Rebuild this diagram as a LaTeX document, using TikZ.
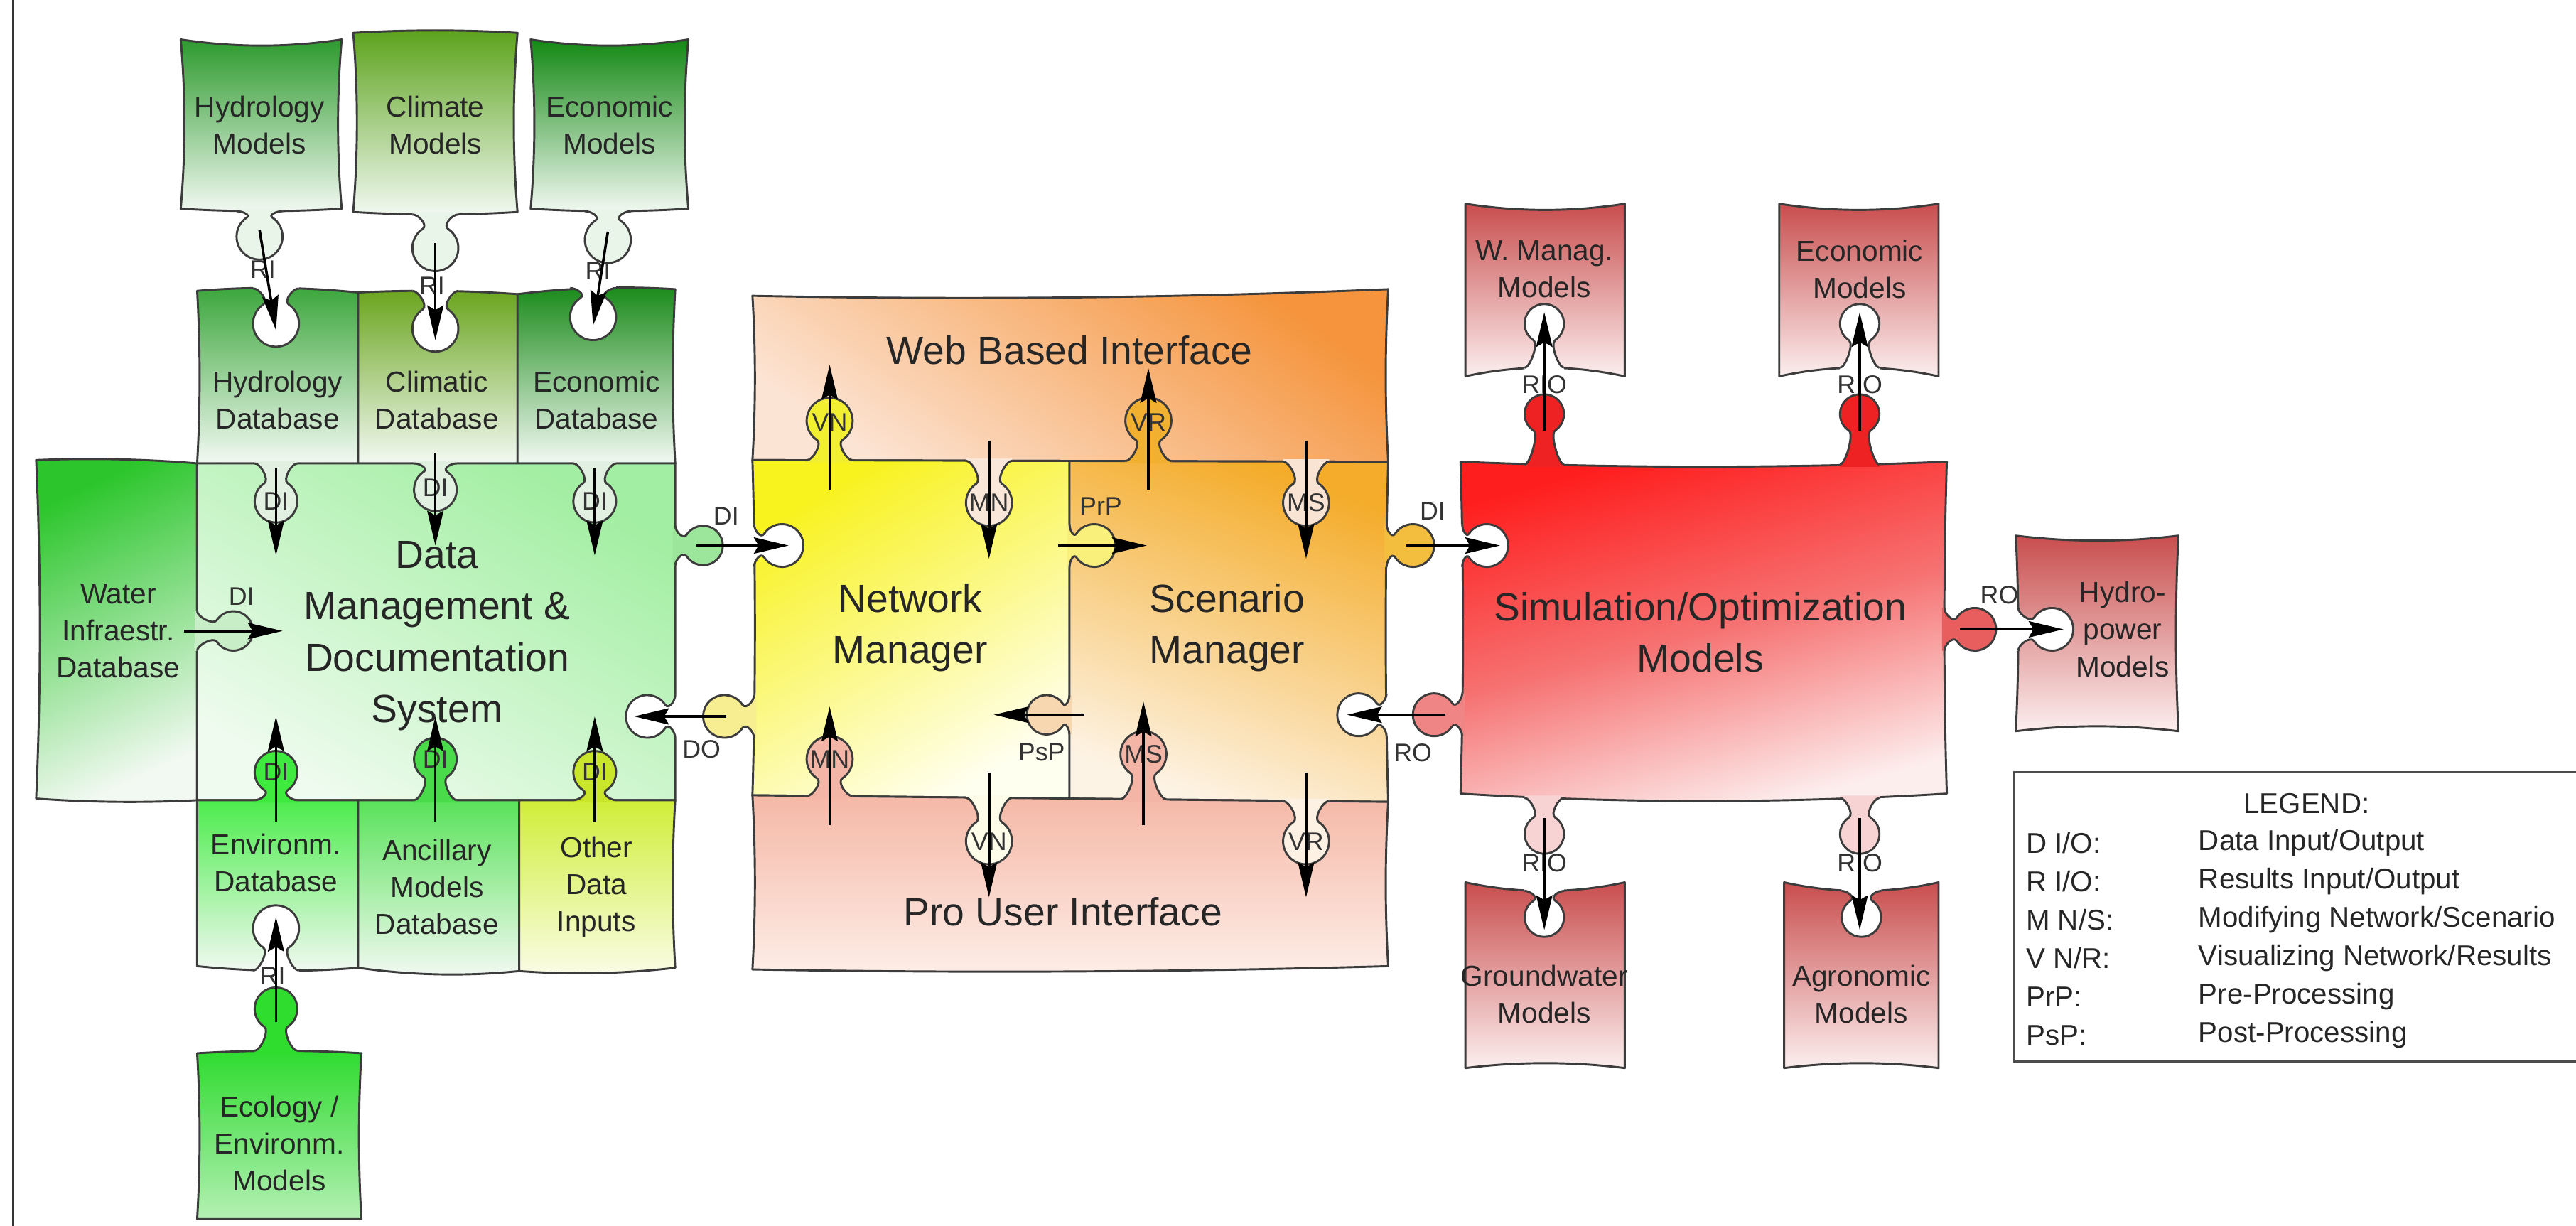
\documentclass[tikz,border=0pt]{standalone}
\usepackage{fontspec}
\setmainfont{Liberation Sans}
\usetikzlibrary{arrows.meta,calc}

% outline and piece colours
\definecolor{outline}{HTML}{3C3C3C}
\definecolor{gHMt}{HTML}{2D9A2D}
\definecolor{gCMt}{HTML}{5CA31C}
\definecolor{gEMt}{HTML}{138813}
\definecolor{gHDt}{HTML}{3BA63B}
\definecolor{gCDt}{HTML}{6AA51E}
\definecolor{gEDt}{HTML}{198A19}
\definecolor{gPale}{HTML}{F2F9F2}
\definecolor{gMainT}{HTML}{A2EEA2}
\definecolor{gMainB}{HTML}{EEFBEE}
\definecolor{gWatT}{HTML}{2CC62C}
\definecolor{gEnvT}{HTML}{4CEC4C}
\definecolor{gAncT}{HTML}{5AE25A}
\definecolor{gOthT}{HTML}{D0EE38}
\definecolor{gOthB}{HTML}{FAFCE6}
\definecolor{gEcoT}{HTML}{2EDB2E}
\definecolor{gEcoB}{HTML}{B4F0B4}
\definecolor{kModel}{HTML}{EAF5EA}
\definecolor{kDB}{HTML}{E2F0E2}
\definecolor{kMain}{HTML}{9BE69B}
\definecolor{kWater}{HTML}{C8EEC8}
\definecolor{kEnv}{HTML}{3EEA3E}
\definecolor{kAnc}{HTML}{4ADB4A}
\definecolor{kOth}{HTML}{C9E62A}
\definecolor{kEco}{HTML}{2EDD2E}
\definecolor{oWebT}{HTML}{F5943C}
\definecolor{oWebB}{HTML}{FCE4D4}
\definecolor{yNMT}{HTML}{F8F21E}
\definecolor{yNMB}{HTML}{FFFFF0}
\definecolor{oSMT}{HTML}{F4AC2A}
\definecolor{oSMB}{HTML}{FDF3E4}
\definecolor{pProT}{HTML}{F5B8A6}
\definecolor{pProB}{HTML}{FDEDE7}
\definecolor{kVN}{HTML}{F2EE30}
\definecolor{kVR}{HTML}{F1B030}
\definecolor{kMN}{HTML}{F9E7DA}
\definecolor{kMS}{HTML}{F9E4D4}
\definecolor{kPrP}{HTML}{F8F07A}
\definecolor{kPsP}{HTML}{F7D7B0}
\definecolor{kPink}{HTML}{F3B6A6}
\definecolor{kLightY}{HTML}{FDFCE8}
\definecolor{kLightO}{HTML}{FCF1E2}
\definecolor{kDO}{HTML}{F6EE90}
\definecolor{kDI}{HTML}{F3BE3E}
\definecolor{rSimT}{HTML}{FF1E1E}
\definecolor{rSimM}{HTML}{F67272}
\definecolor{rSimB}{HTML}{FDEEEE}
\definecolor{rBoxT}{HTML}{C94E4E}
\definecolor{rBoxB}{HTML}{FCEEEE}
\definecolor{kRed}{HTML}{EE2222}
\definecolor{kRedPale}{HTML}{F8D3D3}
\definecolor{kRoL}{HTML}{EF8585}
\definecolor{kRoR}{HTML}{E85D5D}

\tikzset{
  piece/.style={draw=outline, line width=0.9pt, line join=round},
  pline/.style={draw=outline, line width=0.9pt, line join=round},
  txtS/.style={align=center, inner sep=0pt, text=black!85, font=\fontsize{12.5}{16}\selectfont},
  txtB/.style={align=center, inner sep=0pt, text=black!85, font=\fontsize{17}{22.2}\selectfont},
  pinlab/.style={inner sep=0pt, text=black!80, font=\fontsize{11}{12}\selectfont},
  legtxt/.style={anchor=west, inner sep=0pt, text=black!85, font=\fontsize{12.4}{15}\selectfont},
  flow/.style={draw=black, line width=1.1pt, -{Stealth[length=15pt,width=7pt,inset=2pt]}},
}

% puzzle tab (knob or keyhole) on an edge:
% #1,#2 base point on the edge, #3 rotation (0 = pointing down), #4 distance to circle centre, #5 radius, #6 fill
\newcommand\pzltab[6]{%
  \pgfmathsetmacro\tn{0.55*#5}%
  \pgfmathsetmacro\ta{\tn+0.45*#5}%
  \pgfmathsetmacro\tb{\tn+0.18*#5}%
  \pgfmathsetmacro\tj{#4-0.835*#5}%
  \pgfmathsetmacro\tk{min(4,0.7*\tj)}%
  \pgfmathsetmacro\tcu{\tn-0.835*\tk}%
  \pgfmathsetmacro\tcv{\tj-0.55*\tk}%
  \begin{scope}[shift={(#1,#2)},rotate=#3]
    \fill[#6] (-\ta,-1.4) -- (-\ta,0) .. controls (-\tb,0) and (-\tcu,\tcv) .. (-\tn,\tj)
      arc[start angle=236.63,end angle=-56.63,radius=#5]
      .. controls (\tcu,\tcv) and (\tb,0) .. (\ta,0) -- (\ta,-1.4) -- cycle;
    \draw[pline] (-\ta,0) .. controls (-\tb,0) and (-\tcu,\tcv) .. (-\tn,\tj)
      arc[start angle=236.63,end angle=-56.63,radius=#5]
      .. controls (\tcu,\tcv) and (\tb,0) .. (\ta,0);
  \end{scope}}

% slightly wavy four-sided piece: style, TL, TR, BR, BL, sag of top, right, bottom, left edge
\newcommand\pzlquad[9]{%
  \path[piece,#1] (#2)
    .. controls ($(#2)!0.3333!(#3)+(0,#6)$) and ($(#2)!0.6667!(#3)+(0,#6)$) .. (#3)
    .. controls ($(#3)!0.3333!(#4)+(#7,0)$) and ($(#3)!0.6667!(#4)+(#7,0)$) .. (#4)
    .. controls ($(#4)!0.3333!(#5)+(0,#8)$) and ($(#4)!0.6667!(#5)+(0,#8)$) .. (#5)
    .. controls ($(#5)!0.3333!(#2)+(#9,0)$) and ($(#5)!0.6667!(#2)+(#9,0)$) .. (#2) -- cycle;}

\begin{document}
\begin{tikzpicture}[x=0.025cm,y=-0.025cm]
\useasboundingbox (0,0) rectangle (1568,746);
\draw[line width=0.8pt, black!80] (8,0) -- (8,746);

% ---------------- data cluster (green) ----------------
\pzlquad{top color=gHMt,bottom color=gPale}{110,24}{208,24}{208,127}{110,127}{5}{-3}{2}{3}
\pzlquad{top color=gCMt,bottom color=gPale}{215,20}{315,20}{315,129}{215,129}{-2}{-3}{2}{3}
\pzlquad{top color=gEMt,bottom color=gPale}{323,24}{419,24}{419,127}{323,127}{5}{-3}{2}{3}
\pzlquad{top color=gHDt,bottom color=gPale}{120,177}{218,178}{218,282}{120,282}{-3}{0}{0}{2}
\pzlquad{top color=gCDt,bottom color=gPale}{218,178}{315,179}{315,282}{218,282}{-2}{0}{0}{0}
\pzlquad{top color=gEDt,bottom color=gPale}{315,179}{411,176}{411,282}{315,282}{-3}{-2}{0}{0}
\pzlquad{top color=gWatT,bottom color=gPale,shading angle=25}{22,280}{120,282}{120,487}{22,486}{-2}{0}{2}{3}
\pzlquad{top color=gMainT,bottom color=gMainB,shading angle=-30}{120,282}{411,282}{411,487}{120,487}{0}{0}{0}{0}
\pzlquad{top color=gEnvT,bottom color=gPale}{120,487}{218,487}{218,589}{120,588}{0}{0}{3}{0}
\pzlquad{top color=gAncT,bottom color=gPale}{218,487}{316,487}{316,591}{218,589}{0}{0}{4}{0}
\pzlquad{top color=gOthT,bottom color=gOthB}{316,487}{411,487}{411,589}{316,591}{0}{-2}{3}{0}
\pzlquad{top color=gEcoT,bottom color=gEcoB}{120,641}{220,641}{220,742}{120,742}{-2}{-2}{0}{2}

% ---------------- managers (yellow / orange) ----------------
\pzlquad{top color=oWebT,bottom color=oWebB,shading angle=-35}{458,180}{845,176}{845,281}{458,280}{4}{-2}{0}{2}
\pzlquad{top color=yNMT,bottom color=yNMB,shading angle=30}{458,280}{651,280.5}{651,486}{458,484}{0}{0}{0}{2}
\pzlquad{top color=oSMT,bottom color=oSMB,shading angle=-20}{651,280.5}{845,281}{845,488}{651,486}{0}{-2}{0}{0}
\pzlquad{top color=pProT,bottom color=pProB}{458,484}{845,488}{845,588}{458,590}{0}{-2}{3}{2}

% ---------------- models (red) ----------------
\pzlquad{top color=rSimT,bottom color=rSimB,middle color=rSimM,shading angle=15}{889,281}{1185,281}{1185,483}{889,483}{4}{-2}{6}{2}
\pzlquad{top color=rBoxT,bottom color=rBoxB}{892,124}{989,124}{989,229}{892,229}{5}{0}{-7}{0}
\pzlquad{top color=rBoxT,bottom color=rBoxB}{1083,124}{1180,124}{1180,229}{1083,229}{5}{0}{-7}{0}
\pzlquad{top color=rBoxT,bottom color=rBoxB}{892,537}{989,537}{989,650}{892,650}{7}{0}{-4}{0}
\pzlquad{top color=rBoxT,bottom color=rBoxB}{1086,537}{1180,537}{1180,650}{1086,650}{7}{0}{-4}{0}
\pzlquad{top color=rBoxT,bottom color=rBoxB}{1227,326}{1326,326}{1326,445}{1227,445}{4}{-2}{-4}{2}

% ---------------- knobs and sockets ----------------
% green
\pzltab{158}{128.5}{0}{15.5}{14}{kModel}
\pzltab{265}{130.5}{0}{20.5}{14}{kModel}
\pzltab{370}{128.5}{0}{17.5}{14}{kModel}
\pzltab{168}{175.5}{0}{21.5}{14}{white}
\pzltab{265}{177}{0}{23}{14}{white}
\pzltab{361}{175.3}{0}{17.7}{14}{white}
\pzltab{168}{282}{0}{23}{13}{kDB}
\pzltab{265}{282}{0}{16}{13}{kDB}
\pzltab{362}{282}{0}{23}{13}{kDB}
\pzltab{411}{332}{90}{17}{12}{kMain}
\pzltab{120}{384}{90}{22}{12}{kWater}
\pzltab{168}{487}{180}{17}{13}{kEnv}
\pzltab{265}{487}{180}{25}{13}{kAnc}
\pzltab{362}{487}{180}{17}{13}{kOth}
\pzltab{411}{436}{-90}{17}{13}{white}
\pzltab{168}{590.7}{180}{25.7}{14}{white}
\pzltab{168}{639.5}{180}{25.5}{13}{kEco}
% managers
\pzltab{505}{280.1}{180}{24}{14}{kVN}
\pzltab{699}{280.6}{180}{24.6}{14}{kVR}
\pzltab{602}{280.4}{0}{25.6}{14}{kMN}
\pzltab{795}{280.9}{0}{25.1}{14}{kMS}
\pzltab{651}{332}{90}{15}{13}{kPrP}
\pzltab{651}{435}{-90}{14}{12}{kPsP}
\pzltab{505}{484.5}{180}{22.5}{14}{kPink}
\pzltab{696}{486.5}{180}{27.5}{14}{kPink}
\pzltab{602}{485.5}{0}{26.5}{14}{kLightY}
\pzltab{795}{487.5}{0}{24.5}{14}{kLightO}
\pzltab{459}{332}{90}{17}{13}{white}
\pzltab{459}{436}{-90}{18}{13}{kDO}
\pzltab{844}{332}{90}{16}{13}{kDI}
\pzltab{844}{435}{-90}{17}{13}{white}
% red
\pzltab{940}{282.7}{180}{30.7}{12}{kRed}
\pzltab{1132}{282.7}{180}{30.7}{12}{kRed}
\pzltab{940}{485.6}{0}{22}{12}{kRedPale}
\pzltab{1132}{485.6}{0}{22}{12}{kRedPale}
\pzltab{890}{332}{90}{15}{13}{white}
\pzltab{890}{435}{-90}{17}{13}{kRoL}
\pzltab{1183.5}{383}{90}{18.5}{13}{kRoR}
\pzltab{940}{223.8}{180}{26.8}{12}{white}
\pzltab{1132}{223.8}{180}{26.8}{12}{white}
\pzltab{940}{542.2}{0}{16}{12}{white}
\pzltab{1133}{542.2}{0}{16}{12}{white}
\pzltab{1228.5}{383}{90}{20.5}{13}{white}

% ---------------- texts ----------------
\node[txtS] (tHM) at (158,76) {Hydrology\\Models};
\node[txtS] (tCM) at (265,76) {Climate\\Models};
\node[txtS] (tEM) at (371,76) {Economic\\Models};
\node[txtS] (tHD) at (169,243.5) {Hydrology\\Database};
\node[txtS] (tCD) at (266,243.5) {Climatic\\Database};
\node[txtS] (tED) at (363,243.5) {Economic\\Database};
\node[txtS] (tWat) at (72,384) {Water\\Infraestr.\\Database};
\node[txtB] (tMain) at (266,387) {Data\\Management \&\\Documentation\\System};
\node[txtS] (tEnv) at (168,525) {Environm.\\Database};
\node[txtS] (tAnc) at (266,540) {Ancillary\\Models\\Database};
\node[txtS] (tOth) at (363,540) {Other\\Data\\Inputs};
\node[txtS] (tEco) at (170,696) {Ecology /\\Environm.\\Models};

\node[txtB] (tWeb) at (651,213) {Web Based Interface};
\node[txtB] (tNM) at (554,382) {Network\\Manager};
\node[txtB] (tSM) at (747,382) {Scenario\\Manager};
\node[txtB] (tPro) at (647,555) {Pro User Interface};

\node[txtB] (tSim) at (1035,385) {Simulation/Optimization\\Models};
\node[txtS] (tWM) at (940,164) {W. Manag.\\Models};
\node[txtS] (tEM2) at (1132,164) {Economic\\Models};
\node[txtS] (tGW) at (940,605) {Groundwater\\Models};
\node[txtS] (tAG) at (1133,605) {Agronomic\\Models};
\node[txtS] (tHP) at (1292,383) {Hydro-\\power\\Models};

% pin labels
\node[pinlab] (l01) at (160,164) {RI};
\node[pinlab] (l02) at (263,174) {RI};
\node[pinlab] (l03) at (364,165) {RI};
\node[pinlab] (l04) at (168,305) {DI};
\node[pinlab] (l05) at (265,297) {DI};
\node[pinlab] (l06) at (362,305) {DI};
\node[pinlab] (l07) at (442,314) {DI};
\node[pinlab] (l08) at (147,363) {DI};
\node[pinlab] (l09) at (168,470) {DI};
\node[pinlab] (l10) at (265,462) {DI};
\node[pinlab] (l11) at (362,470) {DI};
\node[pinlab] (l12) at (427,456) {DO};
\node[pinlab] (l13) at (166,594) {RI};
\node[pinlab] (l14) at (505,257) {VN};
\node[pinlab] (l15) at (699,257) {VR};
\node[pinlab] (l16) at (602,306) {MN};
\node[pinlab] (l17) at (795,306) {MS};
\node[pinlab] (l18) at (670,308) {PrP};
\node[pinlab] (l19) at (634,458) {PsP};
\node[pinlab] (l20) at (505,462) {MN};
\node[pinlab] (l21) at (696,459) {MS};
\node[pinlab] (l22) at (602,512) {VN};
\node[pinlab] (l23) at (795,512) {VR};
\node[pinlab] (l24) at (872,311) {DI};
\node[pinlab] (l25) at (860,458) {RO};
\node[pinlab] (l26) at (940,234) {RIO};
\node[pinlab] (l27) at (1132,234) {RIO};
\node[pinlab] (l28) at (940,525) {RIO};
\node[pinlab] (l29) at (1132,525) {RIO};
\node[pinlab] (l30) at (1217,362) {RO};

% ---------------- connectors ----------------
\coordinate (a01s) at (158,140);  \coordinate (a01e) at (168,201);
\coordinate (a02s) at (265,148);  \coordinate (a02e) at (265,207);
\coordinate (a03s) at (370,141);  \coordinate (a03e) at (361,198);
\coordinate (a04s) at (168,285);  \coordinate (a04e) at (168,338);
\coordinate (a05s) at (265,276);  \coordinate (a05e) at (265,332);
\coordinate (a06s) at (362,285);  \coordinate (a06e) at (362,338);
\coordinate (a07s) at (112,384);  \coordinate (a07e) at (172,384);
\coordinate (a08s) at (424,332);  \coordinate (a08e) at (480,332);
\coordinate (a09s) at (168,500);  \coordinate (a09e) at (168,436);
\coordinate (a10s) at (265,500);  \coordinate (a10e) at (265,436);
\coordinate (a11s) at (362,500);  \coordinate (a11e) at (362,436);
\coordinate (a12s) at (442,436);  \coordinate (a12e) at (386,436);
\coordinate (a13s) at (168,622);  \coordinate (a13e) at (168,558);
\coordinate (a14s) at (505,298);  \coordinate (a14e) at (505,222);
\coordinate (a15s) at (699,298);  \coordinate (a15e) at (699,224);
\coordinate (a16s) at (602,268);  \coordinate (a16e) at (602,340);
\coordinate (a17s) at (795,268);  \coordinate (a17e) at (795,340);
\coordinate (a18s) at (644,332);  \coordinate (a18e) at (698,332);
\coordinate (a19s) at (660,435);  \coordinate (a19e) at (605,435);
\coordinate (a20s) at (505,502);  \coordinate (a20e) at (505,430);
\coordinate (a21s) at (696,502);  \coordinate (a21e) at (696,427);
\coordinate (a22s) at (602,470);  \coordinate (a22e) at (602,546);
\coordinate (a23s) at (795,470);  \coordinate (a23e) at (795,546);
\coordinate (a24s) at (856,332);  \coordinate (a24e) at (913,332);
\coordinate (a25s) at (880,435);  \coordinate (a25e) at (820,435);
\coordinate (a26s) at (940,262);  \coordinate (a26e) at (940,190);
\coordinate (a27s) at (1132,262); \coordinate (a27e) at (1132,190);
\coordinate (a28s) at (940,498);  \coordinate (a28e) at (940,566);
\coordinate (a29s) at (1132,498); \coordinate (a29e) at (1132,566);
\coordinate (a30s) at (1193,383); \coordinate (a30e) at (1256,383);
\foreach \i in {01,02,03,04,05,06,07,08,09,10,11,12,13,14,15,16,17,18,19,20,21,22,23,24,25,26,27,28,29,30}
  \draw[flow] (a\i s) -- (a\i e);

% ---------------- legend ----------------
\draw[line width=1pt, black!70] (1575,470) -- (1226,470) -- (1226,646) -- (1575,646);
\node[inner sep=0pt, text=black!85, font=\fontsize{12.4}{15}\selectfont] (lgT) at (1404,489) {LEGEND:};
\node[legtxt] (lgA1) at (1233,513) {D I/O:};
\node[legtxt] (lgB1) at (1338,513) {Data Input/Output};
\node[legtxt] (lgA2) at (1233,536.4) {R I/O:};
\node[legtxt] (lgB2) at (1338,536.4) {Results Input/Output};
\node[legtxt] (lgA3) at (1233,559.8) {M N/S:};
\node[legtxt] (lgB3) at (1338,559.8) {Modifying Network/Scenario};
\node[legtxt] (lgA4) at (1233,583.2) {V N/R:};
\node[legtxt] (lgB4) at (1338,583.2) {Visualizing Network/Results};
\node[legtxt] (lgA5) at (1233,606.6) {PrP:};
\node[legtxt] (lgB5) at (1338,606.6) {Pre-Processing};
\node[legtxt] (lgA6) at (1233,630) {PsP:};
\node[legtxt] (lgB6) at (1338,630) {Post-Processing};
\end{tikzpicture}
\end{document}
